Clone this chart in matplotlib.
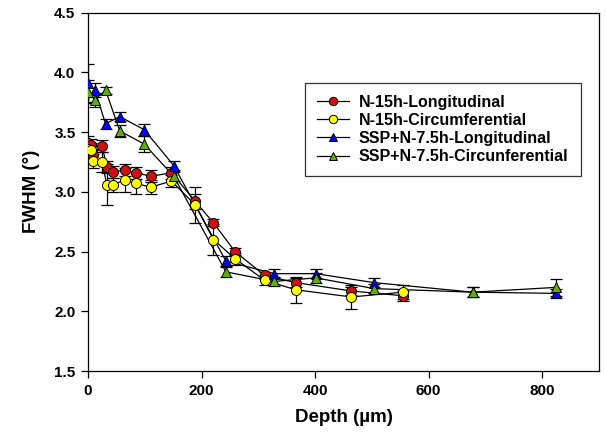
import matplotlib
matplotlib.use("Agg")
import matplotlib.pyplot as plt

plt.rcParams['font.family'] = ['Liberation Sans', 'DejaVu Sans']
plt.rcParams['font.weight'] = 'bold'

# --- data ---
depth_n = [0, 5, 9, 25, 33, 44, 65, 84, 111, 147, 189, 221, 259, 311, 366, 464, 555]
n_long = [3.41, 3.39, 3.31, 3.38, 3.21, 3.17, 3.18, 3.16, 3.13, 3.16, 2.92, 2.74, 2.50, 2.30, 2.24, 2.17, 2.13]
n_long_err = [0.06, 0.05, 0.05, 0.05, 0.05, 0.05, 0.05, 0.05, 0.05, 0.05, 0.06, 0.03, 0.03, 0.03, 0.04, 0.03, 0.04]
n_circ = [3.36, 3.35, 3.26, 3.25, 3.06, 3.06, 3.10, 3.07, 3.04, 3.09, 2.89, 2.60, 2.44, 2.26, 2.18, 2.12, 2.16]
n_circ_err = [0.06, 0.06, 0.06, 0.08, 0.17, 0.06, 0.10, 0.09, 0.06, 0.05, 0.15, 0.13, 0.05, 0.04, 0.11, 0.10, 0.06]

depth_ssp = [0, 12, 31, 56, 99, 151, 243, 328, 401, 504, 678, 824]
ssp_long = [3.91, 3.85, 3.57, 3.63, 3.52, 3.22, 2.42, 2.315, 2.315, 2.24, 2.16, 2.15]
ssp_long_err = [0.16, 0.06, 0.04, 0.04, 0.05, 0.04, 0.04, 0.04, 0.04, 0.04, 0.04, 0.04]
ssp_circ = [3.84, 3.77, 3.85, 3.51, 3.40, 3.13, 2.33, 2.25, 2.28, 2.19, 2.16, 2.20]
ssp_circ_err = [0.10, 0.06, 0.03, 0.05, 0.07, 0.04, 0.04, 0.04, 0.04, 0.04, 0.04, 0.07]

labels = ["N-15h-Longitudinal", "N-15h-Circumferential",
          "SSP+N-7.5h-Longitudinal", "SSP+N-7.5h-Circunferential"]

fig = plt.figure(figsize=(6.06, 4.37), dpi=100)
ax = fig.add_axes([0.1452, 0.151, 0.8432, 0.820])

series = [
    (depth_n, n_long, n_long_err, 'o', '#D01010'),
    (depth_n, n_circ, n_circ_err, 'o', '#FFFF00'),
    (depth_ssp, ssp_long, ssp_long_err, '^', '#0000FF'),
    (depth_ssp, ssp_circ, ssp_circ_err, '^', '#5CB000'),
]
handles = []
for (x, y, e, m, c), lab in zip(series, labels):
    ax.errorbar(x, y, yerr=e, fmt='none', ecolor='black', elinewidth=0.9,
                capsize=4, capthick=0.9, zorder=2)
    ax.plot(x, y, color='black', lw=0.9, zorder=2)
    ax.plot(x, y, ls='none', marker=m, ms=7.2, mfc=c, mec='black', mew=0.7, zorder=3)
    h, = ax.plot([], [], color='black', lw=0.9, marker=m, ms=6, mfc=c, mec='black',
                 mew=0.7, label=lab)
    handles.append(h)

ax.set_xlim(0, 900)
ax.set_ylim(1.5, 4.5)
ax.set_xticks([0, 200, 400, 600, 800])
ax.set_yticks([1.5, 2.0, 2.5, 3.0, 3.5, 4.0, 4.5])
ax.set_yticklabels([f"{v:.1f}" for v in [1.5, 2.0, 2.5, 3.0, 3.5, 4.0, 4.5]])
ax.tick_params(direction='out', length=5, width=0.9, labelsize=11, pad=4)
for lab in ax.get_xticklabels() + ax.get_yticklabels():
    lab.set_fontweight('bold')
for s in ax.spines.values():
    s.set_linewidth(0.9)

ax.set_xlabel("Depth (\u00b5m)", fontsize=13.5, fontweight='bold', labelpad=8)
ax.set_ylabel("FWHM (\u00b0)", fontsize=13.5, fontweight='bold', labelpad=10)

leg = ax.legend(handles=handles, loc='upper left', bbox_to_anchor=(0.41, 0.827),
                fontsize=11.5, frameon=True, fancybox=False, edgecolor='black',
                handlelength=2.0, handletextpad=0.6, borderpad=0.75, labelspacing=0.2)
leg.get_frame().set_linewidth(0.9)
for t in leg.get_texts():
    t.set_fontweight('bold')

fig.savefig("out.png", dpi=100)
